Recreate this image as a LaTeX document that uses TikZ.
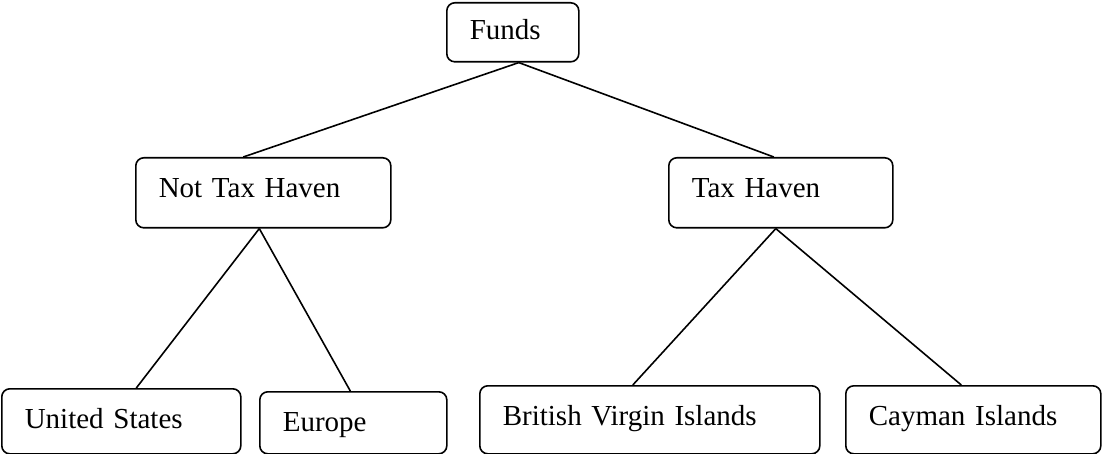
\documentclass[tikz,border=0pt]{standalone}
\usepackage{fontspec}
\setmainfont{Liberation Serif}
\usepackage{tikz}
\usetikzlibrary{positioning}
\tikzset{box/.style={draw, line width=1.6pt, rounded corners=8pt, anchor=north west,
  inner xsep=23pt, inner ysep=0pt, text height=40pt, align=left,
  font=\fontsize{29pt}{34pt}\selectfont}}
\tikzset{edge/.style={line width=1.6pt}}

\begin{document}
\begin{tikzpicture}[x=1pt,y=-1pt]
\useasboundingbox (0,0) rectangle (1102,454);
\node[box, text width=86pt, text height=37pt, text depth=22pt] (funds) at (446,2) {Funds};
\node[box, text width=209pt, text depth=30pt] (nth) at (135,157) {Not Tax Haven};
\node[box, text width=178pt, text depth=30pt] (th) at (668,157) {Tax Haven};
\node[box, text width=193pt, text depth=25pt] (us) at (1,388) {United States};
\node[box, text width=141pt, text depth=22pt] (eu) at (259,391) {Europe};
\node[box, text width=294pt, text depth=28pt] (bvi) at (479,385) {British Virgin Islands};
\node[box, text width=209pt, text depth=28pt] (cay) at (845,385) {Cayman Islands};
\draw[edge] ([xshift=6pt]funds.south) -- ([xshift=-20pt]nth.north);
\draw[edge] ([xshift=6pt]funds.south) -- ([xshift=-7pt]th.north);
\draw[edge] ([xshift=-4pt]nth.south) -- ([xshift=15pt]us.north);
\draw[edge] ([xshift=-4pt]nth.south) -- ([xshift=-3pt]eu.north);
\draw[edge] ([xshift=-5pt]th.south) -- ([xshift=-17pt]bvi.north);
\draw[edge] ([xshift=-5pt]th.south) -- ([xshift=-12pt]cay.north);
\end{tikzpicture}
\end{document}
